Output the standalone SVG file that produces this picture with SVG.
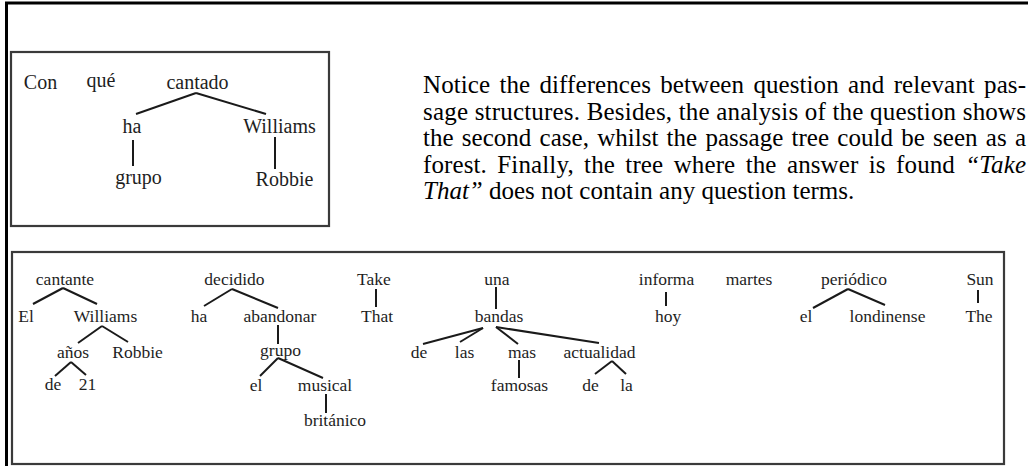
<svg xmlns="http://www.w3.org/2000/svg" width="1028" height="466" viewBox="0 0 1028 466">
<style>
.frame{fill:none;stroke:#000;stroke-width:3}
.box{fill:#fff;stroke:#3a3a3a;stroke-width:2.2}
.q{font-family:"Liberation Serif","Times New Roman",serif;font-size:20px;fill:#1e1e1e;text-anchor:middle}
.t{font-family:"Liberation Serif","Times New Roman",serif;font-size:17.5px;fill:#1e1e1e;text-anchor:middle}
.p{font-family:"Liberation Serif","Times New Roman",serif;font-size:25px;fill:#000}
.it{font-style:italic}
#connectors line{stroke:#1a1a1a;stroke-width:2;stroke-linecap:butt}
</style>
<rect width="1028" height="466" fill="#fff"/>
<path class="frame" d="M1028,3 H6.5 V466"/>
<rect class="box" x="11" y="52" width="318" height="174"/>
<rect class="box" x="12" y="252" width="992" height="212"/>

<g id="paragraph">
<text class="p" x="423" y="93" word-spacing="3" textLength="603" lengthAdjust="spacing">Notice the differences between question and relevant pas-</text>
<text class="p" x="423" y="119.5" textLength="603" lengthAdjust="spacing">sage structures. Besides, the analysis of the question shows</text>
<text class="p" x="423" y="146" word-spacing="2" textLength="603" lengthAdjust="spacing">the second case, whilst the passage tree could be seen as a</text>
<text class="p" x="423" y="172.5" word-spacing="4" textLength="603" lengthAdjust="spacing">forest. Finally, the tree where the answer is found <tspan class="it">“Take</tspan></text>
<text class="p" x="423" y="199"><tspan class="it">That”</tspan> does not contain any question terms.</text>
</g>

<g id="connectors">
<line x1="196" y1="93" x2="136" y2="114"/>
<line x1="196" y1="93" x2="266" y2="114"/>
<line x1="133" y1="140" x2="133" y2="166"/>
<line x1="275" y1="137" x2="275" y2="169"/>

<line x1="63" y1="288" x2="33" y2="304"/>
<line x1="63" y1="288" x2="97" y2="304"/>
<line x1="102" y1="326" x2="78" y2="343"/>
<line x1="102" y1="326" x2="128" y2="342"/>
<line x1="71" y1="362" x2="55" y2="376"/>
<line x1="71" y1="362" x2="86" y2="375"/>

<line x1="232" y1="289" x2="204" y2="306"/>
<line x1="232" y1="289" x2="278" y2="308"/>
<line x1="278" y1="325" x2="278" y2="344"/>
<line x1="278" y1="358" x2="260" y2="376"/>
<line x1="278" y1="358" x2="323" y2="378"/>
<line x1="326" y1="394" x2="326" y2="413"/>

<line x1="376" y1="289" x2="376" y2="307"/>

<line x1="496" y1="287" x2="496" y2="309"/>
<line x1="483" y1="328" x2="423" y2="344"/>
<line x1="483" y1="328" x2="460" y2="342"/>
<line x1="496" y1="327" x2="518" y2="344"/>
<line x1="496" y1="327" x2="599" y2="343"/>
<line x1="519" y1="360" x2="519" y2="378"/>
<line x1="612" y1="361" x2="595" y2="374"/>
<line x1="612" y1="361" x2="626" y2="374"/>

<line x1="666" y1="292" x2="666" y2="306"/>

<line x1="848" y1="289" x2="813" y2="308"/>
<line x1="848" y1="289" x2="885" y2="305"/>
<line x1="978" y1="290" x2="978" y2="303"/>
</g>

<g id="q-con"><text class="q" x="40.5" y="89">Con</text></g>
<g id="q-que"><text class="q" x="101" y="87">qué</text></g>
<g id="q-cantado"><text class="q" x="197.5" y="89">cantado</text></g>
<g id="q-ha"><text class="q" x="132" y="133">ha</text></g>
<g id="q-williams"><text class="q" x="279.5" y="133">Williams</text></g>
<g id="q-grupo"><text class="q" x="138.5" y="184">grupo</text></g>
<g id="q-robbie"><text class="q" x="284.5" y="186">Robbie</text></g>

<g id="p-cantante"><text class="t" x="65" y="285">cantante</text></g>
<g id="p-el1"><text class="t" x="26" y="322">El</text></g>
<g id="p-williams"><text class="t" x="105.5" y="322">Williams</text></g>
<g id="p-anos"><text class="t" x="73" y="358">años</text></g>
<g id="p-robbie"><text class="t" x="137.5" y="358">Robbie</text></g>
<g id="p-de1"><text class="t" x="53" y="390">de</text></g>
<g id="p-21"><text class="t" x="87.5" y="390">21</text></g>

<g id="p-decidido"><text class="t" x="234.5" y="285">decidido</text></g>
<g id="p-ha"><text class="t" x="199" y="322">ha</text></g>
<g id="p-abandonar"><text class="t" x="280" y="322">abandonar</text></g>
<g id="p-grupo"><text class="t" x="280.5" y="356">grupo</text></g>
<g id="p-el2"><text class="t" x="256" y="391">el</text></g>
<g id="p-musical"><text class="t" x="325" y="391">musical</text></g>
<g id="p-britanico"><text class="t" x="335" y="426">británico</text></g>

<g id="p-take"><text class="t" x="374" y="285">Take</text></g>
<g id="p-that"><text class="t" x="377" y="322">That</text></g>

<g id="p-una"><text class="t" x="497" y="285">una</text></g>
<g id="p-bandas"><text class="t" x="499" y="322">bandas</text></g>
<g id="p-de2"><text class="t" x="419" y="358">de</text></g>
<g id="p-las"><text class="t" x="464.5" y="358">las</text></g>
<g id="p-mas"><text class="t" x="522" y="358">mas</text></g>
<g id="p-actualidad"><text class="t" x="599.5" y="358">actualidad</text></g>
<g id="p-famosas"><text class="t" x="519.5" y="391">famosas</text></g>
<g id="p-de3"><text class="t" x="590.5" y="391">de</text></g>
<g id="p-la"><text class="t" x="626.5" y="391">la</text></g>

<g id="p-informa"><text class="t" x="666.5" y="285">informa</text></g>
<g id="p-hoy"><text class="t" x="668" y="322">hoy</text></g>
<g id="p-martes"><text class="t" x="749" y="285">martes</text></g>
<g id="p-periodico"><text class="t" x="854" y="285">periódico</text></g>
<g id="p-el3"><text class="t" x="806" y="322">el</text></g>
<g id="p-londinense"><text class="t" x="887.5" y="322">londinense</text></g>
<g id="p-sun"><text class="t" x="980" y="285">Sun</text></g>
<g id="p-the"><text class="t" x="979" y="322">The</text></g>
</svg>
